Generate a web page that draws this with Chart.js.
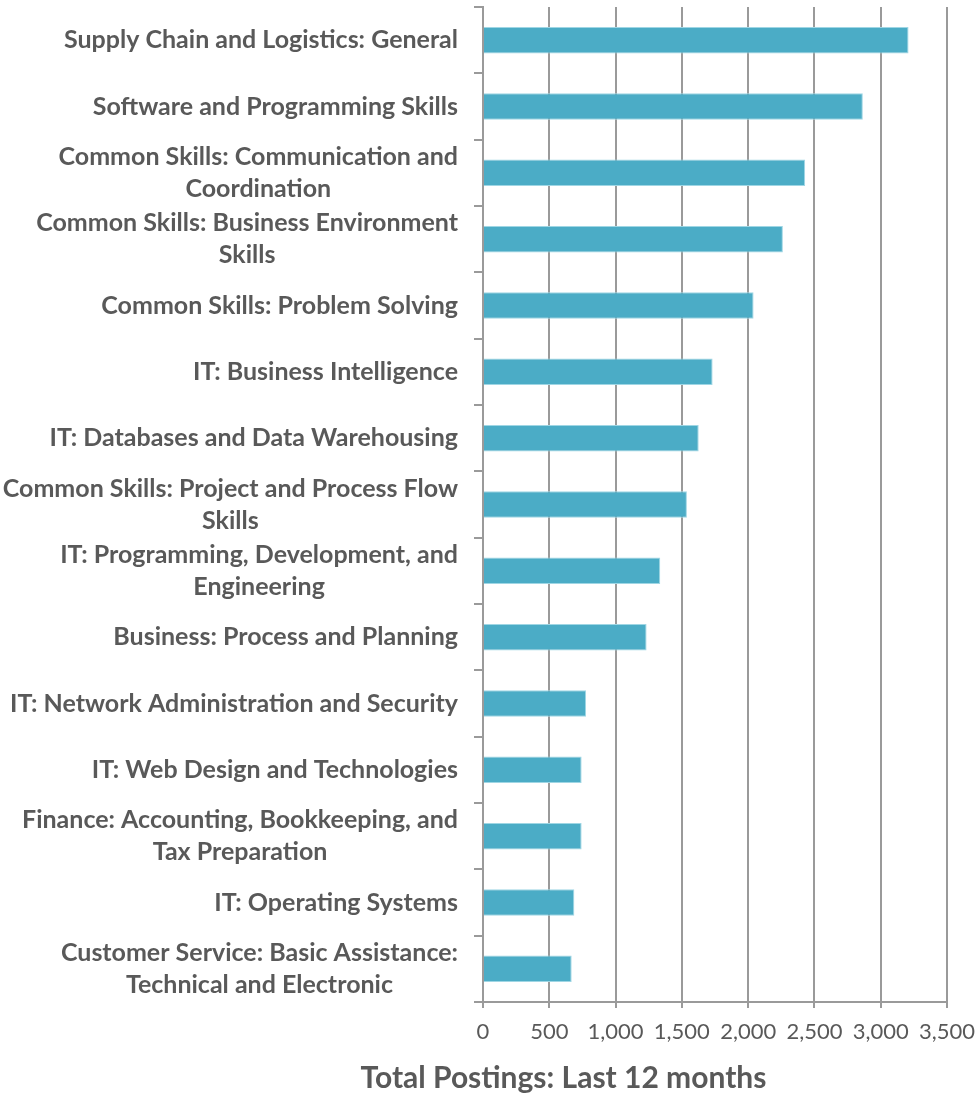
<!DOCTYPE html>
<html>
<head>
<meta charset="utf-8">
<script src="https://cdn.jsdelivr.net/npm/chart.js@4"></script>
<style>
  html, body { margin: 0; padding: 0; background: #ffffff; }
  #wrap { width: 978px; height: 1095px; position: relative; }
</style>
</head>
<body>
<div id="wrap"><canvas id="c" width="978" height="1095"></canvas></div>
<script>
const categories = [
  ["Supply Chain and Logistics: General"],
  ["Software and Programming Skills"],
  ["Common Skills: Communication and", "Coordination"],
  ["Common Skills: Business Environment", "Skills"],
  ["Common Skills: Problem Solving"],
  ["IT: Business Intelligence"],
  ["IT: Databases and Data Warehousing"],
  ["Common Skills: Project and Process Flow", "Skills"],
  ["IT: Programming, Development, and", "Engineering"],
  ["Business: Process and Planning"],
  ["IT: Network Administration and Security"],
  ["IT: Web Design and Technologies"],
  ["Finance: Accounting, Bookkeeping, and", "Tax Preparation"],
  ["IT: Operating Systems"],
  ["Customer Service: Basic Assistance:", "Technical and Electronic"]
];
const postings = [3210, 2865, 2430, 2262, 2041, 1732, 1627, 1538, 1337, 1234, 777, 744, 744, 689, 669];
const xTicks = [0, 500, 1000, 1500, 2000, 2500, 3000, 3500];
const axisTitle = "Total Postings: Last 12 months";

const TEXT = '#595959';
const GRID = '#9a9a9a';

const catLabelPlugin = {
  id: 'catLabels',
  afterDraw(chart) {
    const ctx = chart.ctx;
    const y = chart.scales.y;
    const x = chart.scales.x;
    ctx.save();
    // crossing tick marks above the bottom axis (Excel "cross" style)
    ctx.strokeStyle = GRID;
    ctx.lineWidth = 2;
    xTicks.forEach(v => {
      const px = Math.round(x.getPixelForValue(v));
      ctx.beginPath();
      ctx.moveTo(px, chart.chartArea.bottom - 5);
      ctx.lineTo(px, chart.chartArea.bottom);
      ctx.stroke();
    });
    ctx.font = 'bold 25px Lato';
    ctx.fillStyle = TEXT;
    ctx.textAlign = 'center';
    ctx.textBaseline = 'middle';
    const right = 458, lh = 32;
    categories.forEach((lines, i) => {
      const cy = y.getPixelForValue(i);
      const w = Math.max(...lines.map(l => ctx.measureText(l).width));
      const cx = right - w / 2;
      lines.forEach((l, k) => {
        ctx.fillText(l, cx, cy + (k - (lines.length - 1) / 2) * lh);
      });
    });
    // axis title
    ctx.font = 'bold 30px Lato';
    ctx.textBaseline = 'middle';
    ctx.fillText(axisTitle, 563.5, 1078);
    ctx.restore();
  }
};

new Chart(document.getElementById('c'), {
  type: 'bar',
  data: {
    labels: categories,
    datasets: [{
      data: postings,
      backgroundColor: '#4BACC6',
      borderColor: '#9fd6e4',
      borderWidth: 1,
      borderSkipped: 'start',
      barPercentage: 0.4,
      categoryPercentage: 1.0
    }]
  },
  options: {
    indexAxis: 'y',
    responsive: false,
    animation: false,
    devicePixelRatio: 1,
    layout: { padding: { top: 7, right: 31, left: 0, bottom: 0 } },
    plugins: { legend: { display: false }, tooltip: { enabled: false }, title: { display: false } },
    scales: {
      y: {
        type: 'category',
        offset: true,
        afterFit(scale) { scale.width = 483; scale.paddingTop = 0; scale.paddingBottom = 0; },
        ticks: { display: false },
        grid: {
          drawOnChartArea: false,
          drawTicks: true,
          tickLength: 9,
          offset: true,
          color: GRID,
          lineWidth: 2
        },
        border: { display: true, color: GRID, width: 2 }
      },
      x: {
        type: 'linear',
        min: 0,
        max: 3500,
        afterBuildTicks(scale) { scale.ticks = xTicks.map(v => ({ value: v })); },
        afterFit(scale) { scale.height = 93; scale.paddingLeft = 0; scale.paddingRight = 0; },
        ticks: {
          color: TEXT,
          font: { family: 'Lato', size: 22 },
          padding: 11,
          maxRotation: 0,
          autoSkip: false,
          callback: v => v.toLocaleString('en-US')
        },
        grid: {
          drawOnChartArea: true,
          drawTicks: true,
          tickLength: 6,
          color: GRID,
          lineWidth: 2
        },
        border: { display: true, color: GRID, width: 2 }
      }
    }
  },
  plugins: [catLabelPlugin]
});
</script>
</body>
</html>
